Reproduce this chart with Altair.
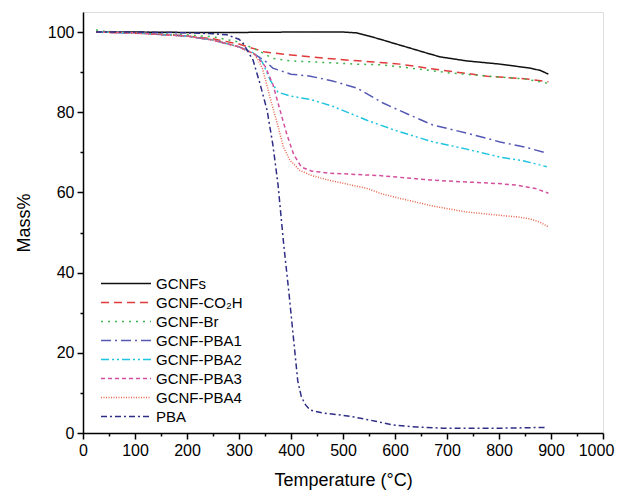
import altair as alt
import pandas as pd

series_names = ["GCNFs", "GCNF-CO₂H", "GCNF-Br", "GCNF-PBA1", "GCNF-PBA2",
                "GCNF-PBA3", "GCNF-PBA4", "PBA"]
colors = ["#111111", "#e03a3a", "#3cb44b", "#5558b4", "#1fc4e0",
          "#d4509e", "#e8644a", "#2e2e86"]
dashes = [[1, 0], [8, 5], [2, 5], [10, 4, 2, 4], [8, 3, 2, 3, 2, 3],
          [4, 3], [1, 1.5], [6, 3, 2, 3]]

t_gcnf = [25, 100, 200, 300, 400, 500, 525, 550, 577, 600, 629, 660, 687, 738, 802, 860, 880, 895]
m_gcnf = [100, 100, 99.9, 99.9, 100, 100, 99.8, 99, 98, 97.1, 96, 94.8, 93.8, 92.8, 92, 91, 90.4, 89.5]

t_co2h = [25, 100, 150, 200, 250, 300, 330, 350, 400, 437, 500, 552, 610, 661, 719, 777, 853, 895]
m_co2h = [100, 99.7, 99.4, 99, 98.3, 97, 95.8, 95, 94.3, 93.8, 93.1, 92.6, 92, 91, 90, 89, 88.3, 87.6]

t_br = [25, 40, 100, 200, 250, 300, 330, 350, 365, 400, 450, 527, 577, 630, 706, 780, 850, 895]
m_br = [100.5, 100.2, 99.8, 99.3, 98.8, 97.5, 95.8, 94.5, 93.4, 92.8, 92.5, 92, 91.8, 91, 89.8, 89, 88.3, 87.2]

t_pba1 = [25, 100, 200, 250, 300, 330, 350, 365, 400, 437, 480, 527, 577, 625, 673, 738, 802, 850, 892]
m_pba1 = [100, 99.8, 99, 98, 96.3, 94.5, 92.8, 91, 89.5, 89, 87.8, 86, 82.3, 79.5, 76.8, 74.8, 72.6, 71.3, 69.8]

t_pba2 = [25, 100, 200, 250, 300, 330, 345, 360, 375, 400, 437, 480, 546, 600, 673, 738, 802, 850, 892]
m_pba2 = [100, 99.8, 99, 98, 96.3, 94.7, 92.5, 88, 85, 84, 83.2, 81.5, 78, 75.5, 72.6, 70.8, 68.8, 67.8, 66.4]

t_pba3 = [25, 100, 200, 250, 300, 330, 350, 365, 380, 392, 405, 420, 440, 475, 571, 667, 738, 800, 835, 870, 895]
m_pba3 = [100, 99.8, 99, 98, 96.3, 94.5, 91.5, 87, 80, 74.5, 69.5, 66.3, 65.3, 64.8, 64.2, 63.1, 62.6, 62.2, 61.8, 61, 59.8]

t_pba4 = [25, 100, 200, 250, 300, 330, 345, 360, 373, 385, 398, 417, 440, 475, 546, 571, 600, 673, 738, 800, 835, 860, 880, 895]
m_pba4 = [100, 99.8, 99, 98, 96.3, 94.5, 91, 83.5, 77.5, 71.5, 68, 65.5, 64.2, 63, 61, 59.8, 58.8, 56.6, 55.1, 54.3, 53.9, 53.4, 52.5, 51.4]

t_pba = [25, 100, 200, 250, 277, 300, 308, 327, 340, 354, 365, 375, 386, 396, 406, 413, 420, 428, 437, 460, 513, 560, 596, 642, 692, 750, 802, 850, 888]
m_pba = [100, 100, 99.8, 99.6, 99.3, 98.2, 97.2, 93, 87.3, 80.5, 72, 62, 47, 35, 22, 13, 9, 7, 5.7, 5, 4.2, 3, 2, 1.5, 1.2, 1.2, 1.2, 1.3, 1.4]

all_t = [t_gcnf, t_co2h, t_br, t_pba1, t_pba2, t_pba3, t_pba4, t_pba]
all_m = [m_gcnf, m_co2h, m_br, m_pba1, m_pba2, m_pba3, m_pba4, m_pba]

rows = []
for name, ts, ms in zip(series_names, all_t, all_m):
    for t, m in zip(ts, ms):
        rows.append({"series": name, "T": t, "M": m})
df = pd.DataFrame(rows)

FONT = "Liberation Sans"

x_axis = alt.Axis(
    values=list(range(0, 1001, 50)),
    format="d",
    labelExpr="datum.value % 100 === 0 ? datum.label : ''",
    tickSize={"condition": {"test": "datum.value % 100 === 0", "value": 6}, "value": 3},
    labelOffset={"condition": {"test": "datum.value === 1000", "value": -7}, "value": 0},
    grid=False, domainColor="#000", tickColor="#000", domainWidth=1.5, tickWidth=1.5,
    labelFont=FONT, labelFontSize=16, labelColor="#000", labelPadding=3,
    title="Temperature (°C)", titleFont=FONT, titleFontSize=18, titleFontWeight="normal",
    titleColor="#000", titlePadding=13, labelFlush=False,
)
y_axis = alt.Axis(
    values=list(range(0, 101, 10)),
    format="d",
    labelExpr="datum.value % 20 === 0 ? datum.label : ''",
    tickSize={"condition": {"test": "datum.value % 20 === 0", "value": 6}, "value": 3},
    grid=False, domainColor="#000", tickColor="#000", domainWidth=1.5, tickWidth=1.5,
    labelFont=FONT, labelFontSize=16, labelColor="#000", labelPadding=3,
    title="Mass%", titleFont=FONT, titleFontSize=18, titleFontWeight="normal",
    titleColor="#000", titlePadding=14, labelFlush=False,
)

chart = alt.Chart(df).mark_line(strokeWidth=1.5, clip=True).encode(
    x=alt.X("T:Q", scale=alt.Scale(domain=[0, 1000], nice=False, zero=False), axis=x_axis),
    y=alt.Y("M:Q", scale=alt.Scale(domain=[0, 105], nice=False, zero=False), axis=y_axis),
    color=alt.Color("series:N", sort=series_names,
                    scale=alt.Scale(domain=series_names, range=colors),
                    legend=alt.Legend(
                        title=None, orient="none", legendX=17, legendY=262,
                        symbolType="stroke", symbolSize=2500, symbolStrokeWidth=1.5,
                        clipHeight=19, rowPadding=0, padding=0, labelOffset=4,
                        labelFont=FONT, labelFontSize=15, labelColor="#000",
                        labelLimit=300)),
    strokeDash=alt.StrokeDash("series:N", sort=series_names,
                              scale=alt.Scale(domain=series_names, range=dashes)),
    order=alt.Order("T:Q"),
).properties(
    width=520, height=421,
    autosize=alt.AutoSizeParams(type="none"),
    padding={"left": 75, "top": 4, "right": 12, "bottom": 59},
).configure_view(
    stroke="#000", strokeWidth=1.5
).configure(background="white")

chart.save("out.html", embed_options={"renderer": "svg", "actions": False})
